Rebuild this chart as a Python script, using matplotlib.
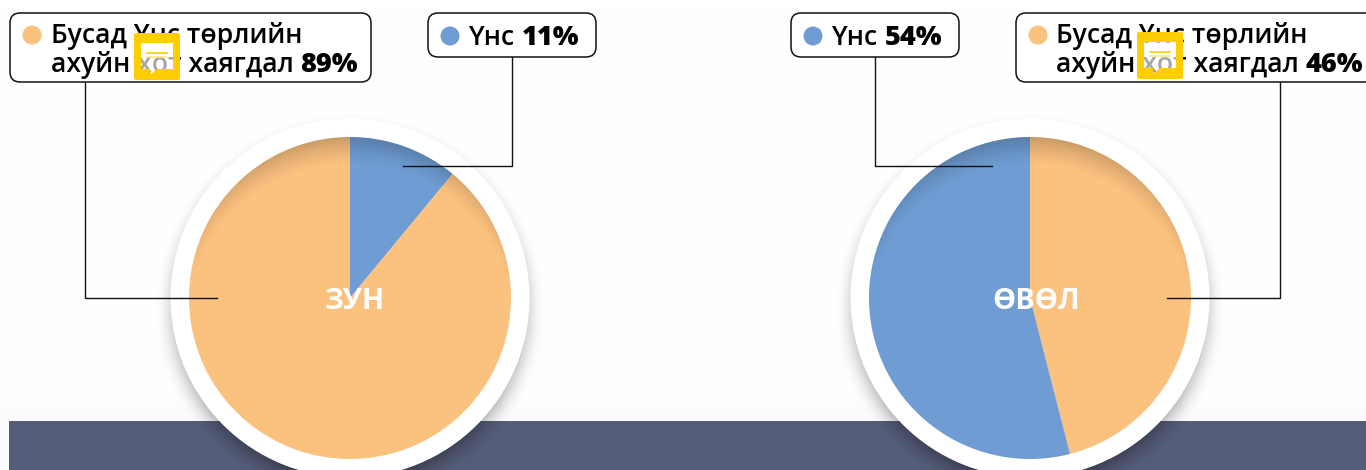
import numpy as np
import matplotlib
matplotlib.use("Agg")
import matplotlib.pyplot as plt
from matplotlib.patches import FancyBboxPatch, Circle, Rectangle, PathPatch, Polygon
from matplotlib.path import Path

plt.rcParams['font.family'] = ['Open Sans', 'DejaVu Sans']

W, H = 1366, 470

# data
seasons = ['ЗУН', 'ӨВӨЛ']
wool = [11, 54]
other = [89, 46]
wool_label = 'Үнс'
other_line1 = 'Бусад Үнс төрлийн'
other_line2 = 'ахуйн хот хаягдал'

orange = '#FBC17F'
blue = '#6F9DD3'
band = '#565D79'


def py(y):
    # picture pixels are counted from the top
    return H - y


fig = plt.figure(figsize=(W / 100, H / 100), dpi=100)
ax = fig.add_axes([0, 0, 1, 1])
ax.set_xlim(0, W)
ax.set_ylim(0, H)
ax.axis('off')

# background fade and the dark band
grad = np.linspace(0, 1, 100).reshape(-1, 1, 1) ** 3
bg = np.ones((100, 1, 3)) * (1 - grad * np.array([0.016, 0.012, 0.0]))
ax.imshow(bg, extent=[0, W, py(470), py(0)], origin='upper', aspect='auto', zorder=0)
ax.add_patch(Rectangle((9, 0), W - 9, py(421), color=band, lw=0, zorder=1))

xx, yy = np.meshgrid(np.arange(W) + 0.5, np.arange(H) + 0.5)


def draw_disc(cx, cy, slices, colors):
    # soft shadow below the white ring
    d = np.hypot(xx - cx, yy - (cy + 10))
    a = np.clip((197 - d) / 26, 0, 1) ** 2 * 0.3
    img = np.zeros((H, W, 4))
    img[..., 3] = a
    ax.imshow(img, extent=[0, W, 0, H], origin='upper', aspect='auto', zorder=2)
    ax.add_patch(Circle((cx, py(cy)), 179.5, color='white', lw=0, zorder=3))

    ax.pie(slices, colors=colors, center=(cx, py(cy)), radius=161, startangle=90,
           counterclock=False, wedgeprops={'linewidth': 0, 'zorder': 4},
           frame=False)

    # inner shade at the top of the pie
    d = np.hypot(xx - cx, yy - (cy + 30))
    a = np.clip((d - 163) / 28, 0, 1) ** 1.3 * 0.2
    img = np.zeros((H, W, 4))
    img[..., 3] = a
    im = ax.imshow(img, extent=[0, W, 0, H], origin='upper', aspect='auto', zorder=5)
    im.set_clip_path(Circle((cx, py(cy)), 161, transform=ax.transData))


draw_disc(350, 298, [wool[0], other[0]], [blue, orange])
draw_disc(1030, 298, [other[1], wool[1]], [orange, blue])
ax.set_xlim(0, W)
ax.set_ylim(0, H)
ax.set_aspect('auto')

ax.text(355, py(309), seasons[0], color='white', fontsize=21, fontweight='bold',
        ha='center', va='baseline', zorder=8)
ax.text(1036, py(309), seasons[1], color='white', fontsize=21, fontweight='bold',
        ha='center', va='baseline', zorder=8)

# leader lines
lines = [([85, 85, 217], [82, 298, 298]),
         ([512, 512, 403], [57, 165.5, 165.5]),
         ([875, 875, 992], [57, 165.5, 165.5]),
         ([1280, 1280, 1167], [82, 298, 298])]
for lx, ly in lines:
    ax.plot(lx, [py(v) for v in ly], color='#111111', lw=1, zorder=7)


def box(x0, y0, x1, y1):
    ax.add_patch(FancyBboxPatch((x0 + 10, py(y1) + 10), x1 - x0 - 20, y1 - y0 - 20,
                                boxstyle='round,pad=10,rounding_size=10',
                                fc='white', ec='#111111', lw=1.1, zorder=9,
                                clip_on=True))


def dot(x, y, c):
    ax.add_patch(Circle((x, py(y)), 9.5, color=c, lw=0, zorder=10))


def label(x, y, s, bold=False):
    ax.text(x, py(y), s, fontsize=19.5 if bold else 19.2,
            fontweight='heavy' if bold else 'semibold',
            color='black', ha='left', va='baseline', zorder=10)


def note_icon(x, y):
    # yellow note button over the text, the note lets the text show through in grey
    hole = [(x + 7, py(y + 10)), (x + 39, py(y + 10)), (x + 39, py(y + 36)),
            (x + 23, py(y + 36)), (x + 17, py(y + 41)), (x + 16, py(y + 36)),
            (x + 7, py(y + 36))]
    outer = FancyBboxPatch((x + 2, py(y + 47) + 2), 42, 43,
                           boxstyle='round,pad=2,rounding_size=2').get_path()
    inner = Path(hole + [hole[0]], closed=True)
    ax.add_patch(PathPatch(Path.make_compound_path(outer, inner),
                           fc='#FFCE00', ec='none', zorder=11))
    ax.add_patch(Polygon(hole, closed=True, fc='white', ec='none', alpha=0.66, zorder=11))
    ax.plot([x + 13, x + 33], [py(y + 20)] * 2, color='#FFCE00', lw=1.2, zorder=13)
    ax.plot([x + 13, x + 33], [py(y + 24)] * 2, color='#FFE680', lw=1.2, zorder=13)


# winter and summer labels
box(10, 13, 371, 82)
dot(32, 35, orange)
label(51, 43, other_line1)
label(51, 72, other_line2)
label(300, 72, f'{other[0]}%', bold=True)
note_icon(134, 33)

box(428, 13, 596, 57)
dot(450, 36, blue)
label(468, 45, wool_label)
label(522, 45, f'{wool[0]}%', bold=True)

box(791, 13, 959, 57)
dot(813, 36, blue)
label(831, 45, wool_label)
label(885, 45, f'{wool[1]}%', bold=True)

box(1016, 13, 1380, 82)
dot(1038, 35, orange)
label(1056, 43, other_line1)
label(1056, 72, other_line2)
label(1306, 72, f'{other[1]}%', bold=True)
note_icon(1137, 32)

fig.savefig('out.png', dpi=100)
